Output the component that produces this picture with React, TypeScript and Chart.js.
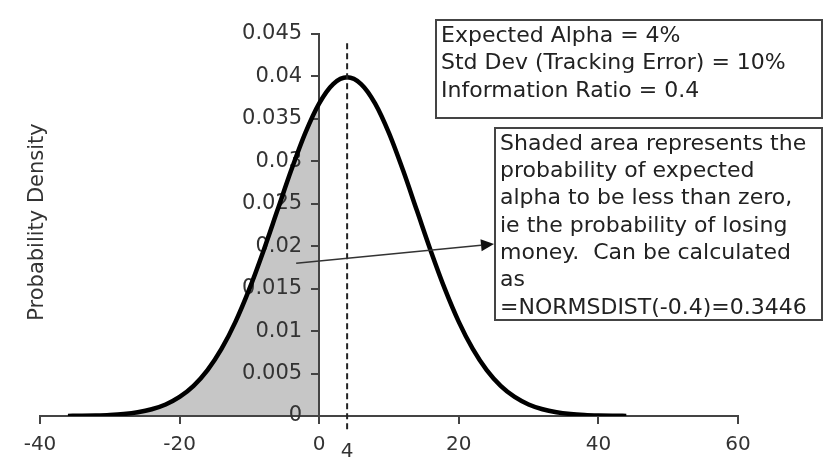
import React, { useEffect, useRef } from "react";
import { Chart, registerables } from "chart.js";

Chart.register(...registerables);

// Return (%) values along the x axis
const xValues = [-36, -34, -32, -30, -28, -26, -24, -22, -20, -18, -16, -14, -12, -10, -8, -6, -4, -2, 0, 2, 4, 6, 8, 10, 12, 14, 16, 18, 20, 22, 24, 26, 28, 30, 32, 34, 36, 38, 40, 42, 44];
// Probability density
const densityValues = [0.0000134, 0.0000292, 0.0000612, 0.000123, 0.000238, 0.000443, 0.000792, 0.001358, 0.002239, 0.003547, 0.005399, 0.007895, 0.011092, 0.014973, 0.019419, 0.024197, 0.028969, 0.033322, 0.036827, 0.039104, 0.039894, 0.039104, 0.036827, 0.033322, 0.028969, 0.024197, 0.019419, 0.014973, 0.011092, 0.007895, 0.005399, 0.003547, 0.002239, 0.001358, 0.000792, 0.000443, 0.000238, 0.000123, 0.0000612, 0.0000292, 0.0000134];
const shadeLimit = 0; // shaded where return < 0
const meanValue = 4;
const xTickMin = -40;
const xTickMax = 60;
const xTickStep = 20;
const yTickMax = 0.045;
const yTickStep = 0.005;
const yAxisTitle = "Probability Density";
const infoLines = ["Expected Alpha = 4%", "Std Dev (Tracking Error) = 10%", "Information Ratio = 0.4"];
const noteLines = [
  "Shaded area represents the",
  "probability of expected",
  "alpha to be less than zero,",
  "ie the probability of losing",
  "money.  Can be calculated",
  "as",
  "=NORMSDIST(-0.4)=0.3446",
];
const arrowFrom = { x: -3.3, y: 0.018 };

const FONT = "'DejaVu Sans', Verdana, sans-serif";
const fmtY = (v: number) => String(Number(Number(v).toFixed(3)));

export default function App() {
  const ref = useRef<HTMLCanvasElement | null>(null);

  useEffect(() => {
    if (!ref.current) return;
    const curve = xValues.map((x, i) => ({ x, y: densityValues[i] }));
    const shade = curve.filter((p) => p.x <= shadeLimit);

    const annotations = {
      id: "annotations",
      beforeDatasetsDraw(chart: any) {
        const ctx = chart.ctx as CanvasRenderingContext2D;
        const xs = chart.scales.x;
        const ys = chart.scales.y;
        const axisX = xs.getPixelForValue(0);
        ctx.save();
        ctx.fillStyle = "#333";
        ctx.font = `21px ${FONT}`;
        ctx.textAlign = "right";
        ctx.textBaseline = "middle";
        ys.ticks.forEach((t: any) => {
          ctx.fillText(fmtY(t.value), axisX - 17, ys.getPixelForValue(t.value));
        });
        ctx.restore();
      },
      afterDraw(chart: any) {
        const ctx = chart.ctx as CanvasRenderingContext2D;
        const xs = chart.scales.x;
        const ys = chart.scales.y;
        ctx.save();
        // dashed mean line
        const mx = xs.getPixelForValue(meanValue);
        ctx.strokeStyle = "#222";
        ctx.lineWidth = 2;
        ctx.setLineDash([6, 4]);
        ctx.beginPath();
        ctx.moveTo(mx, ys.getPixelForValue(0.0439));
        ctx.lineTo(mx, ys.bottom + 16);
        ctx.stroke();
        ctx.setLineDash([]);
        // mean label
        ctx.fillStyle = "#333";
        ctx.font = `20px ${FONT}`;
        ctx.textAlign = "center";
        ctx.textBaseline = "middle";
        ctx.fillText(String(meanValue), mx, ys.bottom + 36);

        // y axis title
        ctx.save();
        ctx.translate(38, 222);
        ctx.rotate(-Math.PI / 2);
        ctx.font = `21px ${FONT}`;
        ctx.fillStyle = "#333";
        ctx.textAlign = "center";
        ctx.textBaseline = "middle";
        ctx.fillText(yAxisTitle, 0, 0);
        ctx.restore();

        // info box
        ctx.fillStyle = "#fff";
        ctx.strokeStyle = "#444";
        ctx.lineWidth = 2;
        ctx.fillRect(436, 20, 386, 98);
        ctx.strokeRect(436, 20, 386, 98);
        ctx.fillStyle = "#222";
        ctx.font = `22px ${FONT}`;
        ctx.textAlign = "left";
        ctx.textBaseline = "middle";
        infoLines.forEach((t, i) => ctx.fillText(t, 441, 36 + i * 27.5));

        // note box
        ctx.fillStyle = "#fff";
        ctx.fillRect(495, 128, 327, 192);
        ctx.strokeRect(495, 128, 327, 192);
        ctx.fillStyle = "#222";
        noteLines.forEach((t, i) => ctx.fillText(t, 500, 144 + i * 27.3));

        // arrow
        const ax = xs.getPixelForValue(arrowFrom.x);
        const ay = ys.getPixelForValue(arrowFrom.y);
        const bx = 494;
        const by = 244;
        const ang = Math.atan2(by - ay, bx - ax);
        const hl = 13;
        ctx.strokeStyle = "#333";
        ctx.lineWidth = 1.5;
        ctx.beginPath();
        ctx.moveTo(ax, ay);
        ctx.lineTo(bx - hl * Math.cos(ang), by - hl * Math.sin(ang));
        ctx.stroke();
        ctx.fillStyle = "#111";
        ctx.beginPath();
        ctx.moveTo(bx, by);
        ctx.lineTo(bx - hl * Math.cos(ang) + 6 * Math.sin(ang), by - hl * Math.sin(ang) - 6 * Math.cos(ang));
        ctx.lineTo(bx - hl * Math.cos(ang) - 6 * Math.sin(ang), by - hl * Math.sin(ang) + 6 * Math.cos(ang));
        ctx.closePath();
        ctx.fill();
        ctx.restore();
      },
    };

    const chart = new Chart(ref.current, {
      type: "line",
      data: {
        datasets: [
          {
            data: shade,
            borderWidth: 0,
            borderColor: "rgba(0,0,0,0)",
            backgroundColor: "#c6c6c6",
            fill: "origin",
            pointRadius: 0,
            cubicInterpolationMode: "monotone",
          },
          {
            data: curve,
            borderColor: "#000",
            borderWidth: 4.5,
            fill: false,
            pointRadius: 0,
            cubicInterpolationMode: "monotone",
          },
        ],
      },
      options: {
        animation: false,
        responsive: false,
        layout: { padding: { left: 40, right: 86, top: 34, bottom: 0 } },
        plugins: {
          legend: { display: false },
          tooltip: { enabled: false },
          filler: { drawTime: "beforeDraw" },
        } as any,
        scales: {
          x: {
            type: "linear",
            min: xTickMin,
            max: xTickMax,
            afterFit: (s: any) => {
              s.height = 50;
            },
            ticks: {
              stepSize: xTickStep,
              color: "#333",
              font: { family: FONT, size: 20 },
              padding: 9,
              maxRotation: 0,
            },
            grid: { drawOnChartArea: false, drawTicks: true, tickLength: 8, color: "#444", lineWidth: 2 },
            border: { color: "#444", width: 2 },
          },
          y: {
            type: "linear",
            min: 0,
            max: yTickMax,
            position: { x: 0 } as any,
            ticks: {
              stepSize: yTickStep,
              display: false,
            },
            grid: { drawOnChartArea: false, drawTicks: true, tickLength: 7, color: "#444", lineWidth: 2 },
            border: { color: "#444", width: 2 },
          },
        },
      } as any,
      plugins: [annotations],
    });
    return () => chart.destroy();
  }, []);

  return (
    <div style={{ position: "absolute", left: 0, top: 0, width: 824, height: 466, background: "#fff" }}>
      <canvas ref={ref} width={824} height={466} style={{ display: "block", width: 824, height: 466 }} />
    </div>
  );
}
